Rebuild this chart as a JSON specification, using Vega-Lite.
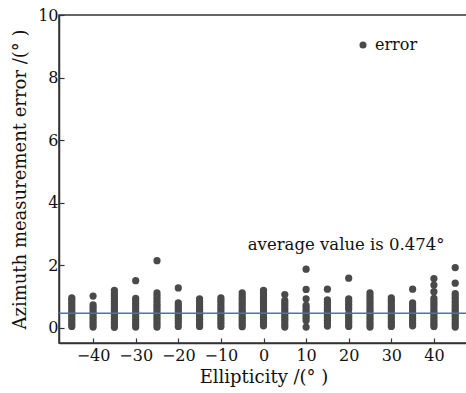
{
  "$schema": "https://vega.github.io/schema/vega-lite/v6.json",
  "width": 409,
  "height": 328,
  "autosize": "none",
  "padding": {"left": 59, "top": 15, "right": 0, "bottom": 50},
  "background": "white",
  "config": {
    "font": "DejaVu Serif",
    "view": {"stroke": "#333", "strokeWidth": 1.5},
    "axis": {
      "grid": false,
      "domainColor": "#333",
      "domainWidth": 1.5,
      "tickColor": "#333",
      "tickWidth": 1.2,
      "tickSize": -5,
      "labelFont": "DejaVu Serif",
      "labelFontSize": 16,
      "labelColor": "#111",
      "titleFont": "DejaVu Serif",
      "titleFontSize": 18,
      "titleFontWeight": "normal",
      "titleColor": "#111"
    },
    "legend": {"labelFont": "DejaVu Serif", "labelFontSize": 16, "labelColor": "#111"}
  },
  "datasets": {
    "pts": [
      {"x": -45, "y": 0.05}, {"x": -45, "y": 0.12}, {"x": -45, "y": 0.2}, {"x": -45, "y": 0.28}, {"x": -45, "y": 0.36}, {"x": -45, "y": 0.44}, {"x": -45, "y": 0.5}, {"x": -45, "y": 0.58}, {"x": -45, "y": 0.66}, {"x": -45, "y": 0.74}, {"x": -45, "y": 0.82}, {"x": -45, "y": 0.9}, {"x": -45, "y": 0.96},
      {"x": -40, "y": 0.03}, {"x": -40, "y": 0.1}, {"x": -40, "y": 0.18}, {"x": -40, "y": 0.26}, {"x": -40, "y": 0.34}, {"x": -40, "y": 0.42}, {"x": -40, "y": 0.5}, {"x": -40, "y": 0.58}, {"x": -40, "y": 0.66}, {"x": -40, "y": 0.74}, {"x": -40, "y": 1.02},
      {"x": -35, "y": 0.02}, {"x": -35, "y": 0.1}, {"x": -35, "y": 0.18}, {"x": -35, "y": 0.27}, {"x": -35, "y": 0.35}, {"x": -35, "y": 0.43}, {"x": -35, "y": 0.52}, {"x": -35, "y": 0.6}, {"x": -35, "y": 0.68}, {"x": -35, "y": 0.77}, {"x": -35, "y": 0.85}, {"x": -35, "y": 0.94}, {"x": -35, "y": 1.02}, {"x": -35, "y": 1.1}, {"x": -35, "y": 1.2},
      {"x": -30, "y": 0.03}, {"x": -30, "y": 0.11}, {"x": -30, "y": 0.19}, {"x": -30, "y": 0.27}, {"x": -30, "y": 0.36}, {"x": -30, "y": 0.45}, {"x": -30, "y": 0.53}, {"x": -30, "y": 0.62}, {"x": -30, "y": 0.7}, {"x": -30, "y": 0.78}, {"x": -30, "y": 0.87}, {"x": -30, "y": 0.95}, {"x": -30, "y": 1.51},
      {"x": -25, "y": 2.15}, {"x": -25, "y": 1.12}, {"x": -25, "y": 1.03}, {"x": -25, "y": 0.94}, {"x": -25, "y": 0.85}, {"x": -25, "y": 0.76}, {"x": -25, "y": 0.68}, {"x": -25, "y": 0.6}, {"x": -25, "y": 0.51}, {"x": -25, "y": 0.43}, {"x": -25, "y": 0.35}, {"x": -25, "y": 0.27}, {"x": -25, "y": 0.19}, {"x": -25, "y": 0.11}, {"x": -25, "y": 0.03},
      {"x": -20, "y": 1.28}, {"x": -20, "y": 0.8}, {"x": -20, "y": 0.72}, {"x": -20, "y": 0.64}, {"x": -20, "y": 0.56}, {"x": -20, "y": 0.48}, {"x": -20, "y": 0.4}, {"x": -20, "y": 0.32}, {"x": -20, "y": 0.24}, {"x": -20, "y": 0.16}, {"x": -20, "y": 0.05},
      {"x": -15, "y": 0.93}, {"x": -15, "y": 0.85}, {"x": -15, "y": 0.77}, {"x": -15, "y": 0.69}, {"x": -15, "y": 0.6}, {"x": -15, "y": 0.52}, {"x": -15, "y": 0.44}, {"x": -15, "y": 0.36}, {"x": -15, "y": 0.28}, {"x": -15, "y": 0.2}, {"x": -15, "y": 0.12}, {"x": -15, "y": 0.05},
      {"x": -10, "y": 0.96}, {"x": -10, "y": 0.88}, {"x": -10, "y": 0.8}, {"x": -10, "y": 0.71}, {"x": -10, "y": 0.63}, {"x": -10, "y": 0.55}, {"x": -10, "y": 0.47}, {"x": -10, "y": 0.39}, {"x": -10, "y": 0.3}, {"x": -10, "y": 0.22}, {"x": -10, "y": 0.14}, {"x": -10, "y": 0.05},
      {"x": -5, "y": 1.12}, {"x": -5, "y": 1.03}, {"x": -5, "y": 0.95}, {"x": -5, "y": 0.86}, {"x": -5, "y": 0.78}, {"x": -5, "y": 0.7}, {"x": -5, "y": 0.61}, {"x": -5, "y": 0.53}, {"x": -5, "y": 0.45}, {"x": -5, "y": 0.36}, {"x": -5, "y": 0.28}, {"x": -5, "y": 0.2}, {"x": -5, "y": 0.12}, {"x": -5, "y": 0.04},
      {"x": 0, "y": 1.2}, {"x": 0, "y": 1.11}, {"x": 0, "y": 1.02}, {"x": 0, "y": 0.94}, {"x": 0, "y": 0.85}, {"x": 0, "y": 0.77}, {"x": 0, "y": 0.68}, {"x": 0, "y": 0.6}, {"x": 0, "y": 0.51}, {"x": 0, "y": 0.43}, {"x": 0, "y": 0.34}, {"x": 0, "y": 0.26}, {"x": 0, "y": 0.17}, {"x": 0, "y": 0.07},
      {"x": 5, "y": 1.07}, {"x": 5, "y": 0.88}, {"x": 5, "y": 0.8}, {"x": 5, "y": 0.72}, {"x": 5, "y": 0.63}, {"x": 5, "y": 0.54}, {"x": 5, "y": 0.45}, {"x": 5, "y": 0.37}, {"x": 5, "y": 0.28}, {"x": 5, "y": 0.2}, {"x": 5, "y": 0.11}, {"x": 5, "y": 0.03},
      {"x": 10, "y": 1.88}, {"x": 10, "y": 1.23}, {"x": 10, "y": 0.93}, {"x": 10, "y": 0.72}, {"x": 10, "y": 0.64}, {"x": 10, "y": 0.56}, {"x": 10, "y": 0.48}, {"x": 10, "y": 0.4}, {"x": 10, "y": 0.32}, {"x": 10, "y": 0.24}, {"x": 10, "y": 0.03},
      {"x": 15, "y": 1.24}, {"x": 15, "y": 0.9}, {"x": 15, "y": 0.82}, {"x": 15, "y": 0.74}, {"x": 15, "y": 0.65}, {"x": 15, "y": 0.57}, {"x": 15, "y": 0.49}, {"x": 15, "y": 0.41}, {"x": 15, "y": 0.33}, {"x": 15, "y": 0.25}, {"x": 15, "y": 0.16}, {"x": 15, "y": 0.06},
      {"x": 20, "y": 1.59}, {"x": 20, "y": 0.93}, {"x": 20, "y": 0.85}, {"x": 20, "y": 0.76}, {"x": 20, "y": 0.68}, {"x": 20, "y": 0.6}, {"x": 20, "y": 0.45}, {"x": 20, "y": 0.37}, {"x": 20, "y": 0.29}, {"x": 20, "y": 0.21}, {"x": 20, "y": 0.13}, {"x": 20, "y": 0.05},
      {"x": 25, "y": 1.12}, {"x": 25, "y": 1.03}, {"x": 25, "y": 0.95}, {"x": 25, "y": 0.86}, {"x": 25, "y": 0.78}, {"x": 25, "y": 0.69}, {"x": 25, "y": 0.6}, {"x": 25, "y": 0.52}, {"x": 25, "y": 0.43}, {"x": 25, "y": 0.35}, {"x": 25, "y": 0.27}, {"x": 25, "y": 0.18}, {"x": 25, "y": 0.1}, {"x": 25, "y": 0.03},
      {"x": 30, "y": 0.96}, {"x": 30, "y": 0.88}, {"x": 30, "y": 0.8}, {"x": 30, "y": 0.71}, {"x": 30, "y": 0.63}, {"x": 30, "y": 0.55}, {"x": 30, "y": 0.46}, {"x": 30, "y": 0.38}, {"x": 30, "y": 0.3}, {"x": 30, "y": 0.21}, {"x": 30, "y": 0.13}, {"x": 30, "y": 0.05},
      {"x": 35, "y": 1.24}, {"x": 35, "y": 0.8}, {"x": 35, "y": 0.72}, {"x": 35, "y": 0.63}, {"x": 35, "y": 0.55}, {"x": 35, "y": 0.47}, {"x": 35, "y": 0.39}, {"x": 35, "y": 0.31}, {"x": 35, "y": 0.23}, {"x": 35, "y": 0.15}, {"x": 35, "y": 0.07},
      {"x": 40, "y": 1.58}, {"x": 40, "y": 1.37}, {"x": 40, "y": 1.16}, {"x": 40, "y": 0.95}, {"x": 40, "y": 0.86}, {"x": 40, "y": 0.78}, {"x": 40, "y": 0.7}, {"x": 40, "y": 0.61}, {"x": 40, "y": 0.53}, {"x": 40, "y": 0.45}, {"x": 40, "y": 0.37}, {"x": 40, "y": 0.28}, {"x": 40, "y": 0.2}, {"x": 40, "y": 0.12}, {"x": 40, "y": 0.05},
      {"x": 45, "y": 1.93}, {"x": 45, "y": 1.43}, {"x": 45, "y": 1.1}, {"x": 45, "y": 1.02}, {"x": 45, "y": 0.94}, {"x": 45, "y": 0.85}, {"x": 45, "y": 0.77}, {"x": 45, "y": 0.69}, {"x": 45, "y": 0.6}, {"x": 45, "y": 0.52}, {"x": 45, "y": 0.44}, {"x": 45, "y": 0.36}, {"x": 45, "y": 0.27}, {"x": 45, "y": 0.19}, {"x": 45, "y": 0.11}, {"x": 45, "y": 0.03}
    ],
    "avg": [{"avg": 0.474, "label": "average value is 0.474°"}]
  },
  "layer": [
    {
      "data": {"name": "pts"},
      "mark": {"type": "circle", "size": 52, "opacity": 1},
      "encoding": {
        "x": {
          "field": "x", "type": "quantitative",
          "scale": {"domain": [-48, 48], "nice": false},
          "axis": {"values": [-40, -30, -20, -10, 0, 10, 20, 30, 40], "title": "Ellipticity /(° )", "labelPadding": 9, "titlePadding": 5}
        },
        "y": {
          "field": "y", "type": "quantitative",
          "scale": {"domain": [-0.48, 10], "nice": false, "zero": false},
          "axis": {"values": [0, 2, 4, 6, 8, 10], "title": "Azimuth measurement error /(° )", "titleFontSize": 18, "labelPadding": 6, "titlePadding": 8}
        },
        "color": {
          "datum": "error",
          "scale": {"range": ["#4a4a4a"]},
          "legend": {"title": null, "orient": "none", "legendX": 296, "legendY": 22, "symbolType": "circle", "symbolSize": 50, "symbolOpacity": 1}
        }
      }
    },
    {
      "data": {"name": "avg"},
      "mark": {"type": "rule", "color": "#4472c4", "strokeWidth": 1.5},
      "encoding": {"y": {"field": "avg", "type": "quantitative"}}
    },
    {
      "data": {"name": "avg"},
      "mark": {"type": "text", "fontSize": 16.5, "color": "#111", "font": "DejaVu Serif"},
      "encoding": {
        "x": {"datum": 19.4},
        "y": {"datum": 2.65},
        "text": {"field": "label"}
      }
    }
  ]
}
